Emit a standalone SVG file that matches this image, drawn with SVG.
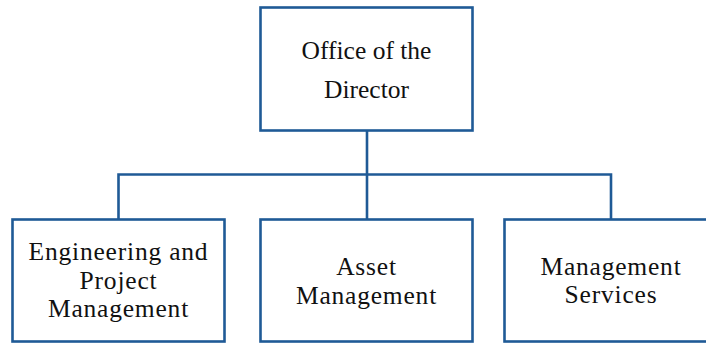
<svg xmlns="http://www.w3.org/2000/svg" width="706" height="343" viewBox="0 0 706 343">
<style>
.box{fill:#ffffff;stroke:#1f5a96;stroke-width:2.6}
.conn{fill:none;stroke:#1f5a96;stroke-width:2.6}
text{font-family:"Liberation Serif","Times New Roman",serif;font-size:25.5px;fill:#111;text-anchor:middle}
.sub{letter-spacing:0.8px}
</style>
<rect width="706" height="343" fill="#ffffff"/>
<g id="connectors">
<path class="conn" d="M367 130 V174.5 M118.5 219 V174.5 H611 V219 M367 174.5 V219"/>
</g>
<g id="director">
<rect class="box" x="260.5" y="7.5" width="212" height="123"/>
<text x="366.5" y="59">Office of the</text>
<text x="366.5" y="98">Director</text>
</g>
<g id="engineering">
<rect class="box" x="12.5" y="219.5" width="212" height="122"/>
<text class="sub" x="118.5" y="260">Engineering and</text>
<text class="sub" x="118.5" y="288.5">Project</text>
<text class="sub" x="118.5" y="317">Management</text>
</g>
<g id="asset">
<rect class="box" x="260.5" y="219.5" width="212" height="122"/>
<text class="sub" x="366.5" y="275">Asset</text>
<text class="sub" x="366.5" y="303.5">Management</text>
</g>
<g id="services">
<rect class="box" x="504.5" y="219.5" width="212" height="122"/>
<text class="sub" x="611" y="275">Management</text>
<text class="sub" x="611" y="303">Services</text>
</g>
</svg>
